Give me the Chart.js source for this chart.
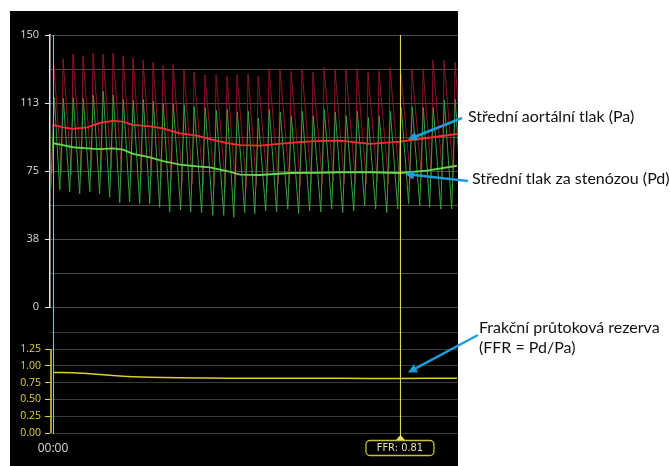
<!DOCTYPE html>
<html>
<head>
    <title>FFR - Pa / Pd</title>
    <script src="https://cdn.jsdelivr.net/npm/chart.js@4"></script>
    <style>
        body {
            margin: 0;
            width: 670px;
            height: 466px;
            overflow: hidden;
            position: relative;
            background: #fff;
        }

        #panel {
            position: absolute;
            left: 10px;
            top: 11px;
            width: 448px;
            height: 455px;
            background: #000;
        }

        #chartBox {
            position: absolute;
            left: 0;
            top: 0;
            width: 670px;
            height: 466px;
        }

        .note {
            position: absolute;
            font-family: 'Lato', 'Open Sans', sans-serif;
            font-size: 16px;
            line-height: 20px;
            color: #111;
            white-space: nowrap;
        }
    </style>
</head>
<body>
<div id="panel"></div>
<div id="chartBox"><canvas id="ffrChart"></canvas></div>
<div class="note" style="left:468px; top:106px">Střední aortální tlak (Pa)</div>
<div class="note" style="left:472px; top:168px">Střední tlak za stenózou (Pd)</div>
<div class="note" style="left:479px; top:317px">Frakční průtoková rezerva<br>(FFR = Pd/Pa)</div>
<script>
    // Beat peaks (seconds from 00:00) with systolic / diastolic values
    const beatTimes = [0.07, 0.67, 1.33, 2.00, 2.67, 3.33, 4.00, 4.67, 5.33, 6.00,
        6.67, 7.33, 8.00, 8.73, 9.40, 10.13, 10.87, 11.60, 12.27, 13.00,
        13.67, 14.40, 15.13, 15.87, 16.60, 17.33, 18.07, 18.80, 19.53, 20.27,
        21.00, 21.73, 22.47, 23.20, 23.93, 24.67, 25.33, 26.07, 26.80, 27.47];
    const paSys = [132, 137, 139.5, 138.5, 140, 139.5, 140, 138.5, 137.5, 136,
        135, 133, 134, 131, 129.5, 128, 128, 127.5, 128, 128.5,
        127.5, 131.5, 131, 130, 131, 129.5, 132, 131, 131, 131.5,
        129.5, 130, 132, 128.5, 131, 131.5, 136, 136, 135, 134];
    const paDia = [74, 74, 73, 74, 75, 75, 76, 75, 74, 73,
        72, 71, 70, 69, 68, 67, 67, 66, 66, 66,
        67, 67, 68, 68, 67, 68, 68, 69, 68, 68,
        68, 69, 68, 69, 70, 71, 72, 72, 72, 72];
    const pdSys = [115.5, 115, 115.5, 115, 117, 119, 117, 114.5, 114, 114.5,
        113.5, 112.5, 112, 111.5, 110.5, 110, 108.5, 109, 107.5, 108,
        104, 109, 107.5, 105.5, 108, 105.5, 109, 107.5, 105.5, 108,
        104.5, 105.5, 108, 110, 110.5, 110, 110, 114, 114.5, 114];
    const pdDia = [65, 64.5, 63.5, 62.5, 63.5, 62.5, 60.5, 57.5, 58, 57,
        57, 55, 52.5, 53.5, 52.5, 52, 50.5, 50.5, 49.5, 52,
        51.5, 53, 52.5, 54, 51.5, 53, 52.5, 54, 52, 53,
        56, 54, 52, 54, 57, 56, 55, 54, 54, 55];

    // Mean pressures and FFR
    const meanTimes = [0, 0.67, 1.33, 2.27, 3.13, 4.00, 4.67, 5.33, 6.47, 7.33, 8.47, 9.60,
        10.47, 11.60, 12.47, 13.80, 15.80, 17.47, 19.13, 21.13, 23.13, 24.93, 26.93];
    const paMean = [100.4, 99.1, 98.2, 99.1, 101.5, 102.6, 102.2, 100.4, 99.6, 98.5, 95.8, 94.5,
        92.6, 90.4, 89.3, 89.0, 90.5, 91.5, 91.7, 90.0, 91.2, 93.2, 95.4];
    const pdMean = [90.3, 89.3, 88.1, 87.5, 87.1, 87.5, 86.8, 84.5, 82.5, 80.5, 78.5, 77.5,
        77.0, 75.0, 73.0, 72.8, 73.9, 74.0, 74.3, 74.3, 73.9, 75.2, 77.9];
    const ffrValues = [0.90, 0.90, 0.895, 0.885, 0.87, 0.855, 0.845, 0.838, 0.83, 0.826, 0.822, 0.82,
        0.818, 0.815, 0.814, 0.813, 0.813, 0.813, 0.813, 0.812, 0.812, 0.813, 0.814];

    // Cursor sits on the 21st mean sample
    const cursorIndex = 20;
    const cursorTime = meanTimes[cursorIndex];

    // Axis ticks
    const pressureTicks = [0, 18.75, 37.5, 56.25, 75, 93.75, 112.5, 131.25, 150];
    const pressureLabels = [0, 37.5, 75, 112.5, 150];
    const ffrTicks = [0, 0.25, 0.5, 0.75, 1.0, 1.25, 1.5];
    const ffrLabelMax = 1.25;
    const timeTicks = [0];
    const timeLabels = ['00:00'];

    const series = (xs, ys) => xs.map((x, i) => ({x: x, y: ys[i]}));

    // Each beat: diastolic trough just before the peak, then the systolic peak
    function waveform(sys, dia, rise, peakShift) {
        const pts = [];
        beatTimes.forEach((t, i) => {
            pts.push({x: t - rise, y: dia[i]});
            pts.push({x: t + peakShift, y: sys[i]});
        });
        return pts;
    }

    function line(ctx, x1, y1, x2, y2) {
        ctx.beginPath();
        ctx.moveTo(x1, y1);
        ctx.lineTo(x2, y2);
        ctx.stroke();
    }

    function arrow(ctx, fx, fy, tx, ty) {
        const a = Math.atan2(ty - fy, tx - fx);
        line(ctx, fx, fy, tx - Math.cos(a) * 5, ty - Math.sin(a) * 5);
        ctx.beginPath();
        ctx.moveTo(tx, ty);
        ctx.lineTo(tx - Math.cos(a) * 9 + Math.sin(a) * 4.5, ty - Math.sin(a) * 9 - Math.cos(a) * 4.5);
        ctx.lineTo(tx - Math.cos(a) * 9 - Math.sin(a) * 4.5, ty - Math.sin(a) * 9 + Math.cos(a) * 4.5);
        ctx.closePath();
        ctx.fill();
    }

    const overlay = {
        id: 'overlay',
        afterDatasetsDraw(chart) {
            const {ctx, chartArea, scales} = chart;
            const x0 = scales.x.getPixelForValue(0);
            const xc = scales.x.getPixelForValue(cursorTime);
            const yF = scales.yF;
            const yP = scales.yP;
            ctx.save();

            // FFR axis line, only across the labelled range
            ctx.strokeStyle = '#e3d43a';
            ctx.lineWidth = 1.5;
            line(ctx, chartArea.left + 1, yF.getPixelForValue(0), chartArea.left + 1, yF.getPixelForValue(ffrLabelMax));

            // start marker
            ctx.strokeStyle = '#88bfcc';
            ctx.lineWidth = 1;
            line(ctx, x0 + 0.5, chartArea.top, x0 + 0.5, chartArea.bottom + 1);

            // cursor
            ctx.strokeStyle = '#ede35c';
            line(ctx, xc + 0.5, chartArea.top, xc + 0.5, chartArea.bottom + 3);
            ctx.fillStyle = '#ede35c';
            ctx.beginPath();
            ctx.moveTo(xc + 0.5, chartArea.bottom + 2);
            ctx.lineTo(xc + 5, chartArea.bottom + 7);
            ctx.lineTo(xc - 4, chartArea.bottom + 7);
            ctx.closePath();
            ctx.fill();

            // cursor value box
            ctx.fillStyle = '#000';
            ctx.strokeStyle = '#cdbd3e';
            ctx.lineWidth = 1.3;
            ctx.beginPath();
            ctx.roundRect(xc - 34, chartArea.bottom + 7.5, 68, 15, 4);
            ctx.fill();
            ctx.stroke();
            ctx.fillStyle = '#eae2a4';
            ctx.font = '11px "Liberation Sans Narrow", "DejaVu Sans Condensed", sans-serif';
            ctx.textAlign = 'center';
            ctx.textBaseline = 'middle';
            ctx.fillText('FFR: ' + ffrValues[cursorIndex].toFixed(2), xc, chartArea.bottom + 15.5);

            // callout arrows
            ctx.strokeStyle = '#1d9ed9';
            ctx.fillStyle = '#1d9ed9';
            ctx.lineWidth = 2.5;
            arrow(ctx, 462, 118, xc + 8, yP.getPixelForValue(paMean[cursorIndex]) - 2);
            arrow(ctx, 468, 181, xc + 5, yP.getPixelForValue(pdMean[cursorIndex]) + 1);
            arrow(ctx, 478, 335, xc + 8, yF.getPixelForValue(ffrValues[cursorIndex]) - 6);
            ctx.restore();
        }
    };

    new Chart(document.getElementById('ffrChart'), {
        type: 'line',
        data: {
            datasets: [{
                label: 'FFR',
                data: series(meanTimes, ffrValues),
                yAxisID: 'yF',
                borderColor: '#dccf30',
                borderWidth: 1.5,
                pointRadius: 0,
                order: 1
            }, {
                label: 'Pa mean',
                data: series(meanTimes, paMean),
                yAxisID: 'yP',
                borderColor: '#ff2d2d',
                borderWidth: 1.8,
                pointRadius: 0,
                order: 2
            }, {
                label: 'Pd mean',
                data: series(meanTimes, pdMean),
                yAxisID: 'yP',
                borderColor: '#68d84e',
                borderWidth: 1.8,
                pointRadius: 0,
                order: 3
            }, {
                label: 'Pd',
                data: waveform(pdSys, pdDia, 0.22, 0.02),
                yAxisID: 'yP',
                borderColor: '#34a23c',
                borderWidth: 1,
                pointRadius: 0,
                order: 4
            }, {
                label: 'Pa',
                data: waveform(paSys, paDia, 0.1, 0),
                yAxisID: 'yP',
                borderColor: '#8e1527',
                borderWidth: 1,
                pointRadius: 0,
                order: 5
            }]
        },
        options: {
            responsive: true,
            maintainAspectRatio: false,
            animation: false,
            events: [],
            layout: {padding: {left: 10, top: 35, right: 212, bottom: 9}},
            plugins: {
                legend: {display: false},
                tooltip: {enabled: false}
            },
            scales: {
                x: {
                    type: 'linear',
                    min: -0.2,
                    max: 27.0,
                    afterBuildTicks: s => { s.ticks = timeTicks.map(v => ({value: v})); },
                    afterFit: s => { s.height = 24; },
                    grid: {display: false, drawTicks: false},
                    border: {display: false},
                    ticks: {
                        autoSkip: false,
                        maxRotation: 0,
                        padding: 8,
                        color: '#d6d9de',
                        font: {family: 'Open Sans', size: 12},
                        callback: (v, i) => timeLabels[i]
                    }
                },
                yF: {
                    type: 'linear',
                    position: 'left',
                    stack: 'pressure',
                    stackWeight: 126,
                    weight: 0,
                    min: 0,
                    max: 1.875,
                    afterBuildTicks: s => { s.ticks = ffrTicks.map(v => ({value: v})); },
                    afterFit: s => { s.width = 40; },
                    border: {display: false},
                    grid: {
                        color: '#3a3a3a',
                        tickLength: 5,
                        tickColor: c => c.tick && c.tick.value <= ffrLabelMax ? '#e3d43a' : 'rgba(0,0,0,0)'
                    },
                    ticks: {
                        autoSkip: false,
                        padding: 4,
                        color: '#e0d236',
                        font: {family: 'Open Sans', size: 10.5},
                        callback: v => v <= ffrLabelMax ? v.toFixed(2) : ''
                    }
                },
                yP: {
                    type: 'linear',
                    position: 'left',
                    stack: 'pressure',
                    stackWeight: 272,
                    weight: 1,
                    min: 0,
                    max: 150,
                    afterBuildTicks: s => { s.ticks = pressureTicks.map(v => ({value: v})); },
                    afterFit: s => { s.width = 40; },
                    border: {display: true, color: '#e4e4e4', width: 1.5},
                    grid: {
                        color: '#4a4a4a',
                        tickLength: 5,
                        tickColor: c => c.tick && pressureLabels.includes(c.tick.value) ? '#e4e4e4' : 'rgba(0,0,0,0)'
                    },
                    ticks: {
                        autoSkip: false,
                        padding: 6,
                        color: '#dcdcdc',
                        font: {family: 'Open Sans', size: 11},
                        callback: v => pressureLabels.includes(v) ? String(Math.round(v)) : ''
                    }
                }
            }
        },
        plugins: [overlay]
    });
</script>
</body>
</html>
